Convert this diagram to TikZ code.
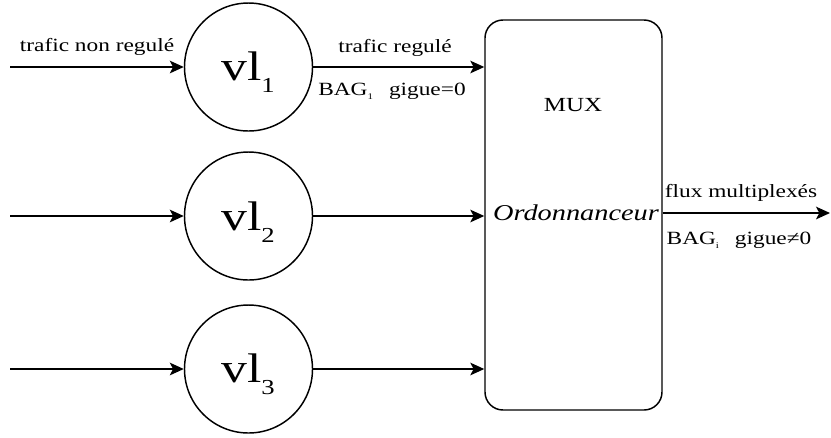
\documentclass[tikz,border=0pt]{standalone}
\usepackage{fontspec}
\setmainfont[FakeStretch=1.25]{Liberation Serif}
\usetikzlibrary{arrows.meta}
\begin{document}
\begin{tikzpicture}[x=0.75pt,y=-0.75pt,
  line width=1.1pt,
  vlc/.style={draw, circle, minimum size=96pt, inner sep=0pt},
  arr/.style={-{Stealth[length=10.5pt,width=9.5pt,inset=2.5pt]}},
  lbl/.style={font=\fontsize{14}{16}\selectfont, inner sep=0pt},
  vlt/.style={anchor=base, inner sep=0pt, font=\fontsize{31}{31}\selectfont},
  ]
\useasboundingbox (0,0) rectangle (831,437);
\node[vlc] (c1) at (248.5,67) {};
\node[vlc] (c2) at (248.5,216) {};
\node[vlc] (c3) at (248.5,369) {};
\node[draw, rounded corners=13.5pt, minimum width=132.75pt, minimum height=292.5pt, inner sep=0pt] (mux) at (573.5,215) {};
\node[vlt] (v1) at (248,80) {vl\raisebox{-9pt}{\fontsize{16}{16}\selectfont 1}};
\node[vlt] (v2) at (248,230) {vl\raisebox{-9pt}{\fontsize{16}{16}\selectfont 2}};
\node[vlt] (v3) at (248,382) {vl\raisebox{-9pt}{\fontsize{16}{16}\selectfont 3}};
\coordinate (in1) at (10,67);
\coordinate (in2) at (10,216);
\coordinate (in3) at (10,369);
\coordinate (out) at (830,213);
\draw[arr] (in1) -- (c1);
\draw[arr] (in2) -- (c2);
\draw[arr] (in3) -- (c3);
\draw[arr] (c1) -- (c1 -| mux.west);
\draw[arr] (c2) -- (c2 -| mux.west);
\draw[arr] (c3) -- (c3 -| mux.west);
\draw[arr] (mux.east |- out) -- (out);
\node[lbl] (t1) at (97,47) {trafic non regulé};
\node[lbl] (t2) at (395,48) {trafic regulé};
\node[lbl, anchor=base] (t3) at (392,95) {BAG\raisebox{-3.5pt}{\fontsize{6.5}{6.5}\selectfont 1}\hspace{12pt}gigue=0};
\node[lbl, font=\fontsize{15}{17}\selectfont] (mx) at (573,105) {MUX};
\node[inner sep=0pt, font=\itshape\fontsize{17}{20}\selectfont] (ord) at (576,213) {Ordonnanceur};
\node[lbl] (t4) at (741,193) {flux multiplexés};
\node[lbl, anchor=base] (t5) at (739,244) {BAG\raisebox{-3.5pt}{\fontsize{6.5}{6.5}\selectfont i}\hspace{12pt}gigue≠0};
\end{tikzpicture}
\end{document}
